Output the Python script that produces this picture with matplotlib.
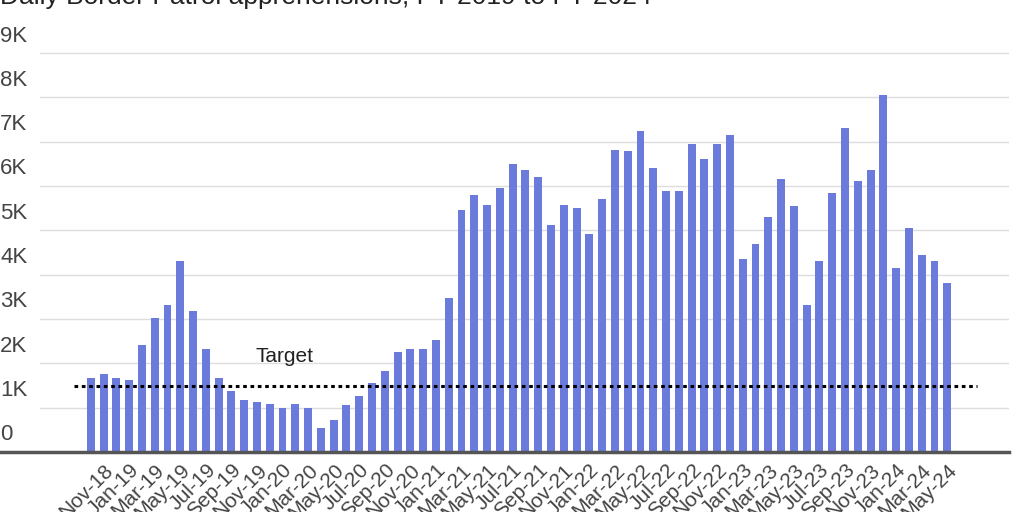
import matplotlib
matplotlib.use("Agg")
import matplotlib.pyplot as plt
import numpy as np

months = []
mn = ["Jan","Feb","Mar","Apr","May","Jun","Jul","Aug","Sep","Oct","Nov","Dec"]
y, m = 2018, 9
for _ in range(68):
    months.append(f"{mn[m]}-{str(y)[2:]}")
    m += 1
    if m == 12:
        m = 0; y += 1

values = [1.67,1.76,1.67,1.63,2.42,3.02,3.32,4.31,3.18,2.33,1.67,1.38,
          1.17,1.13,1.08,0.99,1.08,0.99,0.54,0.72,1.06,1.26,1.56,1.83,
          2.26,2.33,2.33,2.53,3.48,5.46,5.80,5.58,5.96,6.50,6.37,6.21,
          5.12,5.58,5.51,4.92,5.71,6.82,6.79,7.25,6.41,5.89,5.89,6.95,
          6.61,6.95,7.16,4.36,4.70,5.30,6.16,5.55,3.32,4.31,5.85,7.31,
          6.12,6.37,8.06,4.15,5.06,4.45,4.31,3.81]
target = 1.49
yticks = list(range(10))
ylabels = ["0"] + [f"{k}K" for k in range(1, 10)]

plt.rcParams['font.family'] = ['Liberation Sans', 'DejaVu Sans']
fig = plt.figure(figsize=(10.24, 5.12), dpi=100)
ax = fig.add_axes([0.0, 1 - 452/512, 0.985, 452/512])
x = np.arange(len(values))
ax.bar(x, values, width=0.62, color="#6b7bdc", zorder=2)
ax.set_xlim(-7.1, 71.8)
ax.set_ylim(0, 10.2)
for t in yticks:
    if t > 0:
        ax.axhline(t, color="#dddddd", lw=1, zorder=1, xmin=0.04)
    ax.text(-7.1, t + 0.15, ylabels[t], fontsize=16, color="#444444", va="bottom", ha="left")
ax.plot([-1.3, 69.3], [target, target], color="black", ls=(0, (1.2, 1.2)), lw=2.2, zorder=3)
ax.text(12.9, target + 0.45, "Target", fontsize=15, color="#222222", va="bottom")
ax.set_yticks([])
ax.set_xticks(x[1::2])
ax.set_xticklabels(months[1::2], rotation=45, ha="right", rotation_mode="anchor", fontsize=15, color="#444444")
ax.tick_params(axis="x", length=0, pad=6)
for s in ["top", "right", "left"]:
    ax.spines[s].set_visible(False)
ax.spines["bottom"].set_color("#555555")
ax.spines["bottom"].set_linewidth(2.5)
fig.text(0.0, 1.005, "Daily Border Patrol apprehensions, FY 2019 to FY 2024", fontsize=19, color="#222222", va="center", ha="left")
fig.savefig("out.png", dpi=100)
